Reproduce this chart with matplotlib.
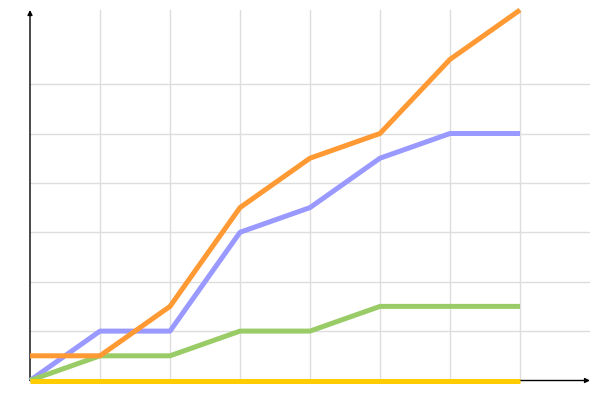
import matplotlib.pyplot as plt

# values
steps = [0, 1, 2, 3, 4, 5, 6, 7]
blue = [0, 1, 1, 3, 3.5, 4.5, 5, 5]
green = [0, 0.5, 0.5, 1, 1, 1.5, 1.5, 1.5]
orange = [0.5, 0.5, 1.5, 3.5, 4.5, 5, 6.5, 7.5]
yellow = [0, 0, 0, 0, 0, 0, 0, 0]

series = [(blue, "#9999ff"), (green, "#99cc66"), (orange, "#ff9933"), (yellow, "#ffcc00")]

fig = plt.figure(figsize=(6, 4), dpi=100)
ax = fig.add_axes([0.05, 0.04875, 560 / 600, 370.5 / 400])

ax.set_xlim(0, 8)
ax.set_ylim(0, 7.5)

# grid
for gx in range(1, 8):
    ax.axvline(gx, color="#dddddd", lw=1, zorder=0)
for gy in range(1, 7):
    ax.axhline(gy, color="#dddddd", lw=1, zorder=0)

for vals, c in series:
    ax.plot(steps, vals, color=c, lw=3.6, solid_capstyle="butt", zorder=3, clip_on=False)

for s in ax.spines.values():
    s.set_visible(False)
ax.set_xticks([])
ax.set_yticks([])

# axes with arrowheads
ax.annotate("", xy=(1.0, 0), xytext=(0, 0), xycoords="axes fraction",
            arrowprops=dict(arrowstyle="-|>", color="black", lw=1, mutation_scale=7, shrinkA=0, shrinkB=0),
            zorder=2, annotation_clip=False)
ax.annotate("", xy=(0, 1.0), xytext=(0, 0), xycoords="axes fraction",
            arrowprops=dict(arrowstyle="-|>", color="black", lw=1, mutation_scale=7, shrinkA=0, shrinkB=0),
            zorder=2, annotation_clip=False)

fig.savefig("out.png", dpi=100)
